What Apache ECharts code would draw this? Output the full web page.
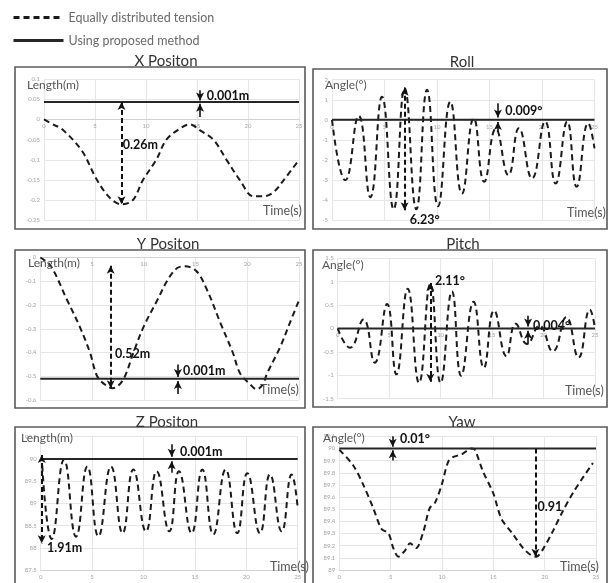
<!DOCTYPE html>
<html><head><meta charset="utf-8">
<script src="https://cdn.jsdelivr.net/npm/echarts@6/dist/echarts.min.js"></script>
<style>html,body{margin:0;padding:0;background:#fff}#c{width:610px;height:583px}</style>
</head><body><div id="c"></div>
<script>
// ---------- data (time in s) ----------
const seriesNames = ['Equally distributed tension', 'Using proposed method'];
const panelTitles = ['X Positon', 'Roll', 'Y Positon', 'Pitch', 'Z Positon', 'Yaw'];
const timeSpan = [0, 25];

const xTime  = [0,1.1,1.7,3.7,5.2,6.5,7.6,8.7,9.7,11,12,13.3,14.3,15.3,16.6,17.9,19.2,20.5,21.5,22.5,23.5,25];
const xEqual = [0,-0.015,-0.022,-0.077,-0.15,-0.195,-0.21,-0.2,-0.15,-0.1,-0.05,-0.023,-0.012,-0.027,-0.05,-0.1,-0.15,-0.19,-0.19,-0.18,-0.15,-0.1];
const xProposed = [0.043, 0.043];

const yTime  = [0,1,2.6,3.8,4.8,5.5,6.4,7,8,9,10,11.3,12.3,13.2,14,15.1,16.1,17.4,18.6,19.3,20.3,20.9,21.5,21.9,23.2,24.1,25];
const yEqual = [0,-0.035,-0.18,-0.29,-0.4,-0.5,-0.54,-0.55,-0.515,-0.4,-0.29,-0.18,-0.095,-0.045,-0.037,-0.058,-0.135,-0.275,-0.4,-0.487,-0.535,-0.555,-0.535,-0.49,-0.375,-0.277,-0.18];
const yProposed = [-0.511, -0.511];

const zTime  = [0.15,1.07,2.27,3.44,4.54,5.61,6.84,7.97,9.01,10.24,11.28,12.51,13.45,14.68,15.72,16.79,17.99,19.12,20.1,21.33,22.3,23.44,24.41,25];
const zEqual = [89.85,88.2,89.98,88.25,89.83,88.26,89.83,88.33,89.76,88.37,89.72,88.37,89.72,88.33,89.76,88.3,89.76,88.33,89.68,88.33,89.65,88.37,89.65,88.9];
const zProposed = [90.0, 90.0];

const rollTime  = [0,1.27,2.54,3.65,4.76,5.87,6.92,8.03,9.05,10.1,11.27,12.38,13.5,14.5,15.6,16.8,17.8,19.05,20.3,21.3,22.4,23.3,24.4,25];
const rollEqual = [0,-3.0,0.2,-3.85,1.15,-4.45,1.58,-4.45,1.5,-4.3,0.9,-3.67,0.08,-3.08,-0.45,-2.75,-0.42,-2.92,-0.08,-3.17,-0.08,-3.33,-0.17,-1.42];
const rollProposed = [0, 0];

const pitchTime  = [0,1.2,2.5,3.6,4.8,5.7,6.8,7.9,9.0,10.0,11.1,12.0,13.2,14.2,15.2,16.4,17.3,18.4,19.6,20.9,22.2,23.4,24.5,25];
const pitchEqual = [0,-0.41,0.19,-0.73,0.52,-0.98,0.85,-1.16,0.95,-1.16,0.79,-1.01,0.57,-0.84,0.38,-0.59,0.1,-0.33,0.06,-0.49,0.24,-0.62,0.4,0.0];
const pitchProposed = [0, 0];

const yawTime  = [0,1.36,2.34,3.3,4.1,4.8,5.26,5.75,6.4,6.9,7.47,8.2,8.8,9.3,9.97,10.6,11.1,11.9,12.9,13.2,14.0,15.0,15.8,16.95,17.9,18.7,19.2,19.9,20.8,21.8,22.8,23.8,24.7];
const yawEqual = [89.99,89.86,89.7,89.51,89.34,89.3,89.18,89.11,89.16,89.22,89.18,89.32,89.51,89.55,89.7,89.89,89.93,89.95,90.0,89.99,89.81,89.63,89.42,89.29,89.18,89.12,89.11,89.18,89.32,89.49,89.64,89.77,89.88];
const yawProposed = [90.0, 90.0];

// y-axis ranges [min, max, interval]
const yRanges = [[-0.25,0.1,0.05],[-5,2,1],[-0.6,0,0.1],[-1.5,1.5,0.5],[87.5,90.5,0.5],[89,90.1,0.1]];
const yNames = ['Length(m)','Angle(°)','Length(m)','Angle(°)','Length(m)','Angle(°)'];

// annotations: [time, from, to, bothHeads, dashed]
const arrowsList = [
  [[7.6,0.043,-0.21,true,true],[15.3,0.072,0.047,false,false],[15.3,0.006,0.039,false,false]],
  [[6.92,1.6,-4.5,true,true],[15.8,0.83,0.12,false,false],[15.8,-0.6,-0.1,false,false]],
  [[6.8,-0.035,-0.55,true,true],[13.3,-0.45,-0.503,false,false],[13.3,-0.575,-0.52,false,false]],
  [[9.0,0.97,-1.14,true,true],[18.5,0.27,0.04,false,false],[18.5,-0.34,-0.05,false,false]],
  [[0.1,90.09,88.1,true,true],[12.74,90.33,90.05,false,false],[12.74,89.69,89.95,false,false]],
  [[19.1,90.0,89.11,false,true],[5.2,90.1,90.015,false,false],[5.2,89.9,89.985,false,false]]
];
// labels: [time, value, text]
const tagsList = [
  [[7.72,-0.064,'0.26m'],[15.96,0.059,'0.001m']],
  [[7.4,-4.98,'6.23°'],[16.5,0.43,'0.009°']],
  [[7.22,-0.406,'0.52m'],[13.79,-0.478,'0.001m']],
  [[9.46,1.015,'2.11°'],[18.98,0.057,'0.004°']],
  [[13.55,90.156,'0.001m'],[0.61,87.995,'1.91m']],
  [[5.91,90.076,'0.01°'],[19.3,89.518,'0.91']]
];
const dashedSets = [[xTime,xEqual],[rollTime,rollEqual],[yTime,yEqual],[pitchTime,pitchEqual],[zTime,zEqual],[yawTime,yawEqual]];
const solidSets = [xProposed, rollProposed, yProposed, pitchProposed, zProposed, yawProposed];

// ---------- layout ----------
const grids = [
  {left:44, top:79, width:255, height:141.5},
  {left:332, top:79.7, width:262.5, height:140.6},
  {left:40.3, top:257.5, width:258.7, height:142.5},
  {left:337.7, top:258.2, width:257.3, height:140.5},
  {left:40.7, top:436.7, width:257, height:133.3},
  {left:339.3, top:436.3, width:256.7, height:133.7}
];
const frames = [[15,67,290,162],[313,69,294,160],[15,250,290,158],[313,250,294,157],[15,427,290,160],[313,427,294,160]];
const titlePos = [[161,59],[457,60],[163,242],[458,241.5],[162,419.5],[457,419.5]];
const yNamePos = [[27,85],[325,85],[28,263],[322,265],[21,438],[323,438]];
const tNamePos = [[263,211],[567,213],[260,390],[565,391],[270,567],[560,567]];
const smoothing = [0.35,0.5,0.35,0.5,0.5,0.3];

const FONT = 'Lato, "Open Sans", sans-serif';
const pairs = (t,v) => t.map((x,i)=>[x,v[i]]);

const xAxes = [], yAxes = [], series = [], graphics = [], titles = [];
for (let i=0;i<6;i++){
  const r = yRanges[i];
  // put the time axis on the zero line when zero is inside the value range
  const zeroFrac = (r[0] <= 0 && r[1] >= 0) ? (0 - r[0]) / (r[1] - r[0]) : 0;
  xAxes.push({type:'value', gridIndex:i, min:timeSpan[0], max:timeSpan[1], interval:5,
    position:'bottom', offset: -grids[i].height * zeroFrac,
    axisLine:{show:true, onZero:false, lineStyle:{color:'#d2d2d2', width:1}},
    axisTick:{show:false},
    axisLabel:{fontSize:6, color:'#a3a3a3', margin:4, fontFamily:FONT},
    splitLine:{show:true, lineStyle:{color:'#e6e6e6', width:1}}});
  yAxes.push({type:'value', gridIndex:i, min:r[0], max:r[1], interval:r[2],
    axisLine:{show:false}, axisTick:{show:false},
    axisLabel:{fontSize:6, color:'#a3a3a3', margin:4, fontFamily:FONT},
    splitLine:{show:true, lineStyle:{color:'#e6e6e6', width:1}}});
  const [t, v] = dashedSets[i];
  const mlData = arrowsList[i].map(a => [
    {coord:[a[0],a[1]], symbol: a[3] ? 'arrow' : 'none'},
    {coord:[a[0],a[2]], symbol:'arrow', lineStyle:{type: a[4] ? [5,3] : 'solid', width: a[4] ? 2 : 1.6, color:'#111'}}
  ]);
  const mpData = tagsList[i].map(g => ({coord:[g[0],g[1]], symbol:'circle', symbolSize:0.1,
    label:{show:true, position:'right', distance:0, formatter:g[2]}}));
  series.push({name:seriesNames[0], type:'line', xAxisIndex:i, yAxisIndex:i, data:pairs(t,v),
    symbol:'none', showSymbol:false, smooth:smoothing[i], clip:false, z:3,
    lineStyle:{color:'#1a1a1a', width:2, type:[6,4]},
    itemStyle:{color:'#1a1a1a'},
    markLine:{silent:true, animation:false, symbolSize:[6,8], label:{show:false}, data:mlData,
      lineStyle:{color:'#111'}, emphasis:{disabled:true}},
    markPoint:{silent:true, animation:false, itemStyle:{color:'rgba(0,0,0,0)'},
      label:{color:'#111', fontSize:12.5, fontWeight:'bold', fontFamily:FONT}, data:mpData}
  });
  const s = solidSets[i];
  series.push({name:seriesNames[1], type:'line', xAxisIndex:i, yAxisIndex:i,
    data:pairs(timeSpan, s), symbol:'none', showSymbol:false, clip:false, z:4,
    lineStyle:{color:'#262626', width:2}, itemStyle:{color:'#262626'}});
  const f = frames[i];
  graphics.push({type:'rect', shape:{x:f[0], y:f[1], width:f[2], height:f[3]},
    style:{fill:'none', stroke:'#5a5a5a', lineWidth:1.6}, silent:true});
  titles.push({text:panelTitles[i], left:titlePos[i][0], top:titlePos[i][1]-10, textAlign:'center',
    textStyle:{fontSize:15, fontWeight:'normal', color:'#333', fontFamily:FONT}});
  graphics.push({type:'text', x:yNamePos[i][0], y:yNamePos[i][1], z:10, silent:true,
    style:{text:yNames[i], font:'12px '+FONT, fill:'#555', verticalAlign:'middle', textVerticalAlign:'middle'}});
  graphics.push({type:'text', x:tNamePos[i][0], y:tNamePos[i][1], z:10, silent:true,
    style:{text:'Time(s)', font:'12.5px '+FONT, fill:'#555', verticalAlign:'middle', textVerticalAlign:'middle'}});
}

const chart = echarts.init(document.getElementById('c'), null, {renderer:'canvas'});
chart.setOption({
  animation:false,
  backgroundColor:'#fff',
  title: titles,
  legend:{data:seriesNames, orient:'vertical', left:7, top:6, itemWidth:50, itemHeight:14, itemGap:10,
    selectedMode:false, textStyle:{fontSize:12.5, color:'#6a6a6a', fontFamily:FONT},
    itemStyle:{color:'rgba(0,0,0,0)', borderColor:'rgba(0,0,0,0)', borderWidth:0, opacity:0},
    lineStyle:{width:3}},
  grid: grids,
  xAxis: xAxes,
  yAxis: yAxes,
  series: series,
  graphic: graphics
});
</script></body></html>
